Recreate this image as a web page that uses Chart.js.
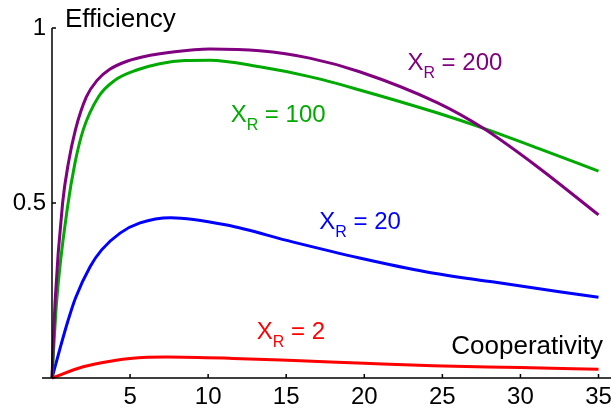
<!DOCTYPE html>
<html>
<head>
<meta charset="utf-8">
<script src="https://cdn.jsdelivr.net/npm/chart.js@4.4.1/dist/chart.umd.min.js"></script>
<style>
  html, body { margin: 0; padding: 0; background: #fff; }
  #wrap { width: 611px; height: 412px; }
</style>
</head>
<body>
<div id="wrap"><canvas id="grafico"></canvas></div>
<script>
// values (cooperativity -> efficiency)
const xr200X = [0, 0.2, 0.68, 1.05, 1.5, 2.2, 2.9, 3.7, 4.8, 6.3, 7.6, 10.1, 13.3, 16.5, 19.7, 24.7, 27.6, 31.1, 35];
const xr200Y = [0, 0.22, 0.5, 0.614, 0.709, 0.803, 0.851, 0.882, 0.905, 0.922, 0.931, 0.94, 0.935, 0.914, 0.875, 0.786, 0.714, 0.603, 0.466];

const xr100X = [0, 0.3, 1.0, 1.47, 2.0, 2.97, 4.04, 5.43, 6.9, 8.5, 10.1, 13.3, 16.5, 19.7, 24.7, 27.6, 31.1, 35];
const xr100Y = [0, 0.22, 0.49, 0.614, 0.709, 0.803, 0.851, 0.88, 0.898, 0.907, 0.908, 0.889, 0.861, 0.823, 0.757, 0.714, 0.657, 0.591];

const xr20X = [0, 0.5, 1.0, 1.5, 2.44, 3.18, 4.36, 5.64, 7.6, 11.2, 15.4, 19.7, 24, 28.3, 32.6, 35];
const xr20Y = [0, 0.082, 0.16, 0.228, 0.318, 0.366, 0.414, 0.443, 0.458, 0.437, 0.389, 0.343, 0.303, 0.274, 0.246, 0.231];

const xr2X = [0, 2.0, 4.0, 5.0, 7.35, 11.6, 15.9, 20, 24.4, 30, 35];
const xr2Y = [0, 0.032, 0.05, 0.056, 0.06, 0.056, 0.049, 0.042, 0.035, 0.03, 0.025];

const xTicks = [5, 10, 15, 20, 25, 30, 35];
const yTicks = [0.5, 1];
const yTickLabels = ['0.5', '1'];
const seriesNames = ['200', '100', '20', '2'];

const pts = (xs, ys) => xs.map((x, i) => ({ x: x, y: ys[i] }));
const FONT = '"Liberation Sans", Arial, sans-serif';

// axes, ticks and curve labels drawn by hand (Mathematica look)
const axesPlugin = {
  id: 'axesPlugin',
  afterDraw(chart) {
    const c = chart.ctx;
    const xs = chart.scales.x, ys = chart.scales.y;
    const x0 = xs.getPixelForValue(0), y0 = ys.getPixelForValue(0);
    const area = chart.chartArea;
    c.save();
    c.strokeStyle = '#000';
    c.lineWidth = 1.5;
    c.beginPath();
    c.moveTo(area.left, y0); c.lineTo(area.right, y0);
    c.moveTo(x0, y0); c.lineTo(x0, ys.getPixelForValue(1));
    c.stroke();

    c.fillStyle = '#000';
    c.font = '24px ' + FONT;
    c.textAlign = 'center';
    c.textBaseline = 'alphabetic';
    xTicks.forEach(t => {
      const px = xs.getPixelForValue(t);
      c.beginPath(); c.moveTo(px, y0); c.lineTo(px, y0 - 4); c.stroke();
      c.fillText(String(t), px, y0 + 26);
    });
    c.textAlign = 'right';
    c.textBaseline = 'middle';
    yTicks.forEach((t, i) => {
      const py = ys.getPixelForValue(t);
      c.beginPath(); c.moveTo(x0, py); c.lineTo(x0 + 4, py); c.stroke();
      c.fillText(yTickLabels[i], x0 - 6, py);
    });

    c.font = '26px ' + FONT;
    c.textAlign = 'left';
    c.textBaseline = 'alphabetic';
    c.fillText('Efficiency', 65, 27);
    c.textAlign = 'right';
    c.fillText('Cooperativity', 603, 354);

    // curve labels X_R = ...
    const anchors = [[22.76, 0.88], [11.44, 0.731], [17.12, 0.425], [13.12, 0.111]];
    chart.data.datasets.forEach((ds, i) => {
      let px = xs.getPixelForValue(anchors[i][0]);
      const py = ys.getPixelForValue(anchors[i][1]);
      c.fillStyle = ds.borderColor;
      c.textAlign = 'left';
      c.font = '24px ' + FONT;
      c.fillText('X', px, py);
      px += c.measureText('X').width;
      c.font = '16px ' + FONT;
      c.fillText('R', px, py + 8);
      px += c.measureText('R').width;
      c.font = '24px ' + FONT;
      c.fillText(' = ' + seriesNames[i], px, py);
    });
    c.restore();
  }
};

const ctx = document.getElementById('grafico');
new Chart(ctx, {
  type: 'line',
  data: {
    datasets: [
      { label: 'X_R = 200', data: pts(xr200X, xr200Y), borderColor: '#800080' },
      { label: 'X_R = 100', data: pts(xr100X, xr100Y), borderColor: '#00aa00' },
      { label: 'X_R = 20', data: pts(xr20X, xr20Y), borderColor: '#0000ff' },
      { label: 'X_R = 2', data: pts(xr2X, xr2Y), borderColor: '#ff0000' }
    ]
  },
  options: {
    responsive: true,
    maintainAspectRatio: false,
    animation: false,
    layout: { padding: { left: 42, right: 0, top: 28, bottom: 34 } },
    elements: {
      point: { radius: 0 },
      line: { borderWidth: 3, cubicInterpolationMode: 'monotone', fill: false }
    },
    clip: false,
    plugins: { legend: { display: false }, tooltip: { enabled: false } },
    scales: {
      x: { type: 'linear', min: -0.64, max: 35.8, display: false },
      y: { type: 'linear', min: 0, max: 1, display: false }
    }
  },
  plugins: [axesPlugin]
});
</script>
</body>
</html>
